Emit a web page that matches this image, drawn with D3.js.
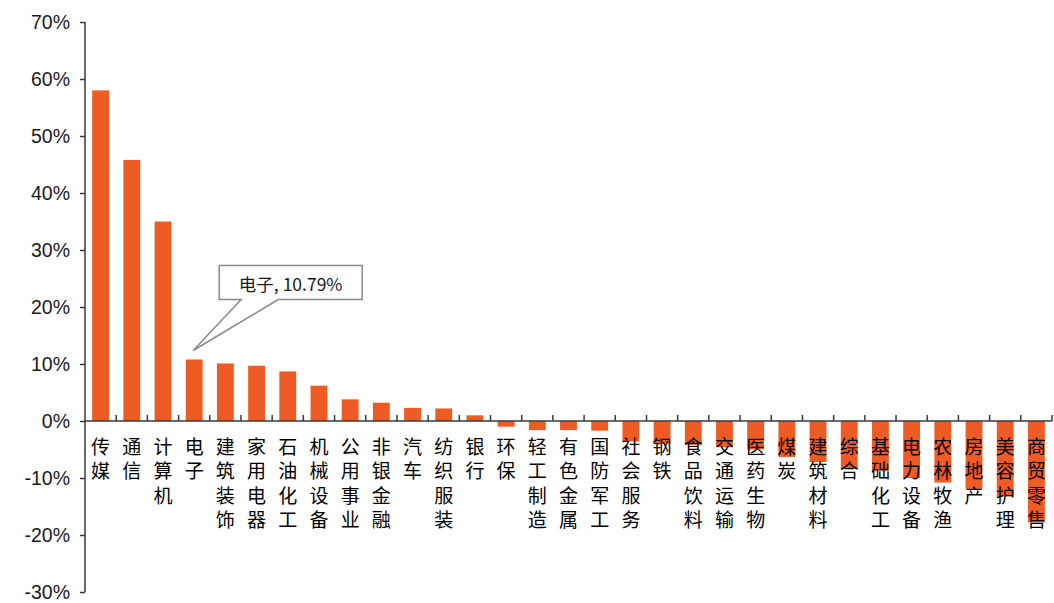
<!DOCTYPE html>
<html>
<head>
<meta charset="utf-8">
<script src="https://cdn.jsdelivr.net/npm/d3@7"></script>
<style>
  html, body { margin: 0; padding: 0; background: #fff; }
  svg { display: block; }
</style>
</head>
<body>
<svg id="chart" width="1054" height="603"></svg>
<script>
// Industry return, sorted high to low
const categories = [
  "传媒", "通信", "计算机", "电子", "建筑装饰", "家用电器", "石油化工", "机械设备",
  "公用事业", "非银金融", "汽车", "纺织服装", "银行", "环保", "轻工制造", "有色金属",
  "国防军工", "社会服务", "钢铁", "食品饮料", "交通运输", "医药生物", "煤炭", "建筑材料",
  "综合", "基础化工", "电力设备", "农林牧渔", "房地产", "美容护理", "商贸零售"
];
const returns = [
  0.580, 0.458, 0.350, 0.1079, 0.101, 0.097, 0.087, 0.062,
  0.038, 0.032, 0.023, 0.022, 0.010, -0.010, -0.016, -0.016,
  -0.017, -0.036, -0.040, -0.042, -0.046, -0.050, -0.063, -0.072,
  -0.083, -0.088, -0.100, -0.108, -0.119, -0.132, -0.178
];
const yTicks = [-0.3, -0.2, -0.1, 0, 0.1, 0.2, 0.3, 0.4, 0.5, 0.6, 0.7];
const callout = { category: "电子", text: "电子, 10.79%" };

(function draw() {
  const svg = d3.select("#chart");
  const mLeft = 85, mRight = 1052, mTop = 22, mBottom = 592;
  const barColor = "#EF5B25";
  const axisColor = "#3a3a3a";

  const x = d3.scaleBand().domain(categories).range([mLeft, mRight]).paddingInner(0.46).paddingOuter(0.23);
  const y = d3.scaleLinear().domain([-0.3, 0.7]).range([mBottom, mTop]);

  // Percent labels with a plain hyphen for negatives
  const pct = d => (d < 0 ? "-" : "") + Math.round(Math.abs(d) * 100) + "%";

  // Bars
  svg.append("g").selectAll("rect")
    .data(categories.map((c, i) => ({ c, v: returns[i] })))
    .join("rect")
    .attr("x", d => x(d.c))
    .attr("width", x.bandwidth())
    .attr("y", d => y(Math.max(0, d.v)))
    .attr("height", d => Math.abs(y(d.v) - y(0)))
    .attr("fill", barColor);

  // Y axis
  const yAxis = svg.append("g")
    .attr("transform", `translate(${mLeft},0)`)
    .call(d3.axisLeft(y).tickValues(yTicks).tickSize(5).tickPadding(10).tickFormat(pct));
  yAxis.select(".domain").attr("stroke", axisColor).attr("stroke-width", 1.5).attr("d", `M0,${mTop}V${mBottom}`);
  yAxis.selectAll(".tick line").attr("stroke", axisColor).attr("stroke-width", 1.5);
  yAxis.selectAll(".tick text")
    .attr("fill", "#1a1a1a")
    .style("font-family", "'Liberation Sans', Arial, sans-serif")
    .style("font-size", "19.5px");

  // Category axis at zero, boundary ticks pointing up
  const bounds = d3.range(1, categories.length + 1).map(i => mLeft + i * (mRight - mLeft) / categories.length);
  const xAxis = svg.append("g");
  xAxis.append("line")
    .attr("x1", mLeft).attr("x2", mRight)
    .attr("y1", y(0)).attr("y2", y(0))
    .attr("stroke", axisColor).attr("stroke-width", 1.5);
  xAxis.selectAll("line.tk").data(bounds).join("line")
    .attr("class", "tk")
    .attr("x1", d => d).attr("x2", d => d)
    .attr("y1", y(0)).attr("y2", y(0) - 6)
    .attr("stroke", axisColor).attr("stroke-width", 1.5);

  // Vertical category labels, one character per line
  const labels = svg.append("g")
    .style("font-family", "'Noto Sans CJK SC', sans-serif")
    .style("font-size", "19px")
    .attr("fill", "#000");
  categories.forEach(c => {
    const cx = x(c) + x.bandwidth() / 2;
    const t = labels.append("text").attr("text-anchor", "middle");
    Array.from(c).forEach((ch, k) => {
      t.append("tspan")
        .attr("x", cx)
        .attr("y", y(0) + 24 + k * 24.6)
        .attr("dominant-baseline", "central")
        .text(ch);
    });
  });

  // Callout for a highlighted bar
  const ci = categories.indexOf(callout.category);
  const tipX = x(callout.category) + x.bandwidth() / 2 - 1;
  const tipY = y(returns[ci]) - 9;
  const boxX = tipX + 26, boxY = tipY - 85, boxW = 143, boxH = 34;
  const g = svg.append("g");
  g.append("path")
    .attr("d", `M${boxX},${boxY} H${boxX + boxW} V${boxY + boxH} H${tipX + 85} L${tipX},${tipY} L${tipX + 48},${boxY + boxH} H${boxX} Z`)
    .attr("fill", "#fff")
    .attr("stroke", "#8a8a8a")
    .attr("stroke-width", 1.5);
  g.append("text")
    .attr("x", boxX + boxW / 2)
    .attr("y", boxY + boxH / 2 + 1)
    .attr("text-anchor", "middle")
    .attr("dominant-baseline", "central")
    .attr("fill", "#1a1a1a")
    .style("font-family", "'Noto Sans CJK SC', 'Liberation Sans', sans-serif")
    .style("font-size", "17.5px")
    .text(callout.text);
})();
</script>
</body>
</html>
